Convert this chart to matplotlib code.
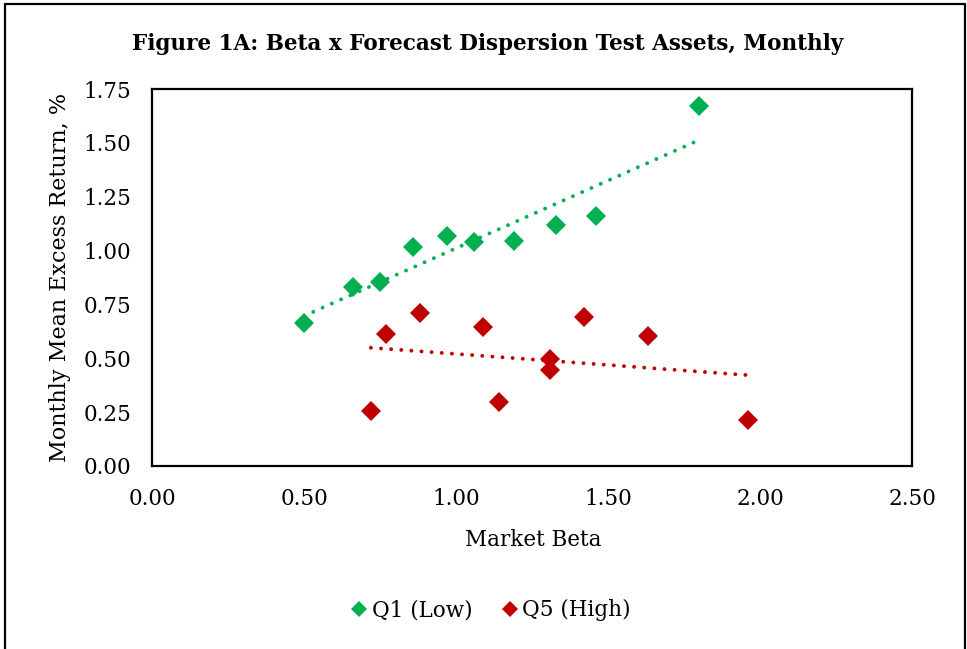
import numpy as np
import matplotlib
matplotlib.use("Agg")
import matplotlib.pyplot as plt
from matplotlib.patches import Rectangle

plt.rcParams["font.family"] = ["DejaVu Serif"]

# ── Data ──────────────────────────────────────────────────────
q1_beta = [0.50, 0.66, 0.75, 0.86, 0.97, 1.06, 1.19, 1.33, 1.46, 1.80]
q1_ret = [0.665, 0.832, 0.856, 1.017, 1.068, 1.038, 1.045, 1.119, 1.161, 1.670]

q5_beta = [0.72, 0.77, 0.88, 1.09, 1.14, 1.31, 1.31, 1.42, 1.63, 1.96]
q5_ret = [0.255, 0.613, 0.712, 0.644, 0.297, 0.498, 0.446, 0.693, 0.604, 0.212]

x_ticks = [0.0, 0.5, 1.0, 1.5, 2.0, 2.5]
y_ticks = [0.0, 0.25, 0.5, 0.75, 1.0, 1.25, 1.5, 1.75]

GREEN = "#00B050"
RED = "#C00000"
FS = 15.5

W, H = 967, 649
fig = plt.figure(figsize=(W / 100, H / 100), dpi=100)
ax = fig.add_axes([152 / W, 1 - 466 / H, (912 - 152) / W, (466 - 89) / H])

# ── Points and linear trendlines ──────────────────────────────
for xs, ys, col, name in [(q1_beta, q1_ret, GREEN, "Q1 (Low)"),
                          (q5_beta, q5_ret, RED, "Q5 (High)")]:
    xs = np.array(xs)
    ys = np.array(ys)
    ax.plot(xs, ys, linestyle="none", marker="D", markersize=10.5,
            color=col, markeredgewidth=0, label=name, zorder=3)
    k, b = np.polyfit(xs, ys, 1)
    xt = np.array([xs.min(), xs.max()])
    ax.plot(xt, k * xt + b, color=col, linewidth=2.8,
            linestyle=(0, (0.01, 2.6)), dash_capstyle="round", zorder=2)

ax.set_xlim(0, 2.5)
ax.set_ylim(0, 1.75)
ax.set_xticks(x_ticks)
ax.set_xticklabels([f"{v:.2f}" for v in x_ticks])
ax.set_yticks(y_ticks)
ax.set_yticklabels([f"{v:.2f}" for v in y_ticks])
ax.tick_params(axis="x", length=0, pad=16, labelsize=FS)
ax.tick_params(axis="y", length=0, pad=15, labelsize=FS)
for sp in ax.spines.values():
    sp.set_linewidth(1.6)
    sp.set_color("black")

# ── Texts ─────────────────────────────────────────────────────
fig.text(488 / W, 1 - 44 / H, "Figure 1A: Beta x Forecast Dispersion Test Assets, Monthly",
         ha="center", va="center", fontsize=FS, fontweight="bold")
fig.text(533 / W, 1 - 540 / H, "Market Beta", ha="center", va="center", fontsize=FS)
fig.text(60 / W, 1 - 277 / H, "Monthly Mean Excess Return, %", ha="center", va="center",
         rotation=90, fontsize=16)

handles, labels = ax.get_legend_handles_labels()
leg = fig.legend(handles, labels, loc="center", bbox_to_anchor=(492 / W, 1 - 610 / H),
                 ncol=2, frameon=False, fontsize=FS, markerscale=0.75,
                 handlelength=0.6, handletextpad=0.3, columnspacing=1.4)

# outer chart border (bottom edge cut off like the reference)
fig.patches.append(Rectangle((5 / W, -0.05), (965 - 5) / W, 1.05 - 4 / H,
                             transform=fig.transFigure, fill=False,
                             edgecolor="black", linewidth=1.6, clip_on=False))

fig.savefig("out.png", dpi=100)
